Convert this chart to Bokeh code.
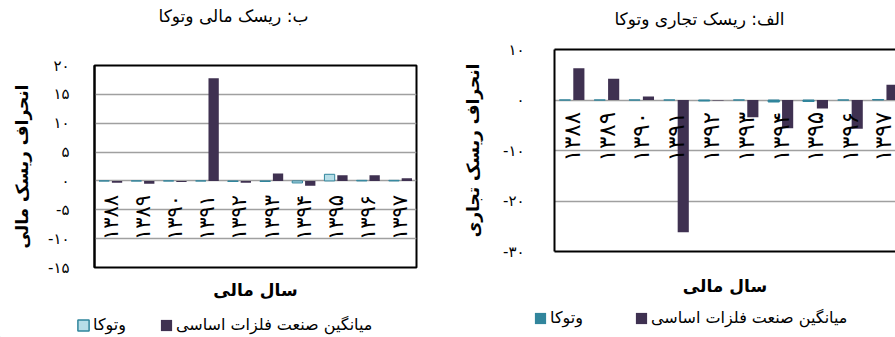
import numpy as np
from bokeh.plotting import figure
from bokeh.models import (ColumnDataSource, FixedTicker, LinearAxis, Legend,
                          LegendItem, Range1d, Label)
from bokeh.layouts import row, column
from bokeh.transform import dodge
from bokeh.embed import file_html
from bokeh.resources import INLINE

# ---------------- data ----------------
years = ["۱۳۸۸", "۱۳۸۹", "۱۳۹۰", "۱۳۹۱", "۱۳۹۲", "۱۳۹۳", "۱۳۹۴", "۱۳۹۵", "۱۳۹۶", "۱۳۹۷"]
series_names = ["وتوکا", "میانگین صنعت فلزات اساسی"]
titles = ["ب: ریسک مالی وتوکا", "الف: ریسک تجاری وتوکا"]

# panel ب: financial risk
fin_vetooka = [0.0, 0.0, 0.0, 0.0, -0.1, -0.1, -0.35, 1.15, 0.1, 0.1]
fin_industry = [-0.3, -0.5, -0.2, 17.8, -0.3, 1.3, -0.85, 1.0, 1.0, 0.45]
fin_ticks = [-15, -10, -5, 0, 5, 10, 15, 20]
fin_tick_labels = ["-۱۵", "-۱۰", "-۵", "۰", "۵", "۱۰", "۱۵", "۲۰"]

# panel الف: business risk
bus_vetooka = [0.0, 0.0, 0.0, 0.0, -0.2, 0.0, -0.4, -0.3, 0.0, 0.1]
bus_industry = [6.3, 4.2, 0.7, -26.2, -0.1, -3.4, -5.6, -1.7, -5.7, 3.0]
bus_ticks = [-30, -20, -10, 0, 10]
bus_tick_labels = ["-۳۰", "-۲۰", "-۱۰", "۰", "۱۰"]

FONT = "DejaVu Sans"
PURPLE = "#3F3151"
TEAL = "#31859C"
LIGHT = "#B7DEE8"
GRID = "#A0A0A0"
TOP_H = 33
LEG_H = 32
MAIN_H = 337 - TOP_H - LEG_H


def blank_axis(**kw):
    base = dict(ticker=FixedTicker(ticks=[]), axis_line_color=None,
                major_tick_line_color=None, minor_tick_line_color=None,
                major_label_standoff=0, major_label_text_font_size="0px")
    base.update(kw)
    return LinearAxis(**base)


def strip(height):
    f = figure(width=895, height=height, x_range=Range1d(0, 1),
               y_range=Range1d(0, 1), output_backend="svg",
               toolbar_location=None, x_axis_location=None,
               y_axis_location=None, title_location=None, min_border=0,
               outline_line_color=None)
    f.frame_align = False
    f.grid.visible = False
    return f


def panel(ylabel, vet, ind, ticks, tick_labels, yrange, xend, width,
          left, right, frame_top, frame_bottom, vet_fill, vet_line,
          year_standoff, year_font, xlab_standoff, ylab_standoff,
          tick_standoff, outline):
    idx = list(range(len(years)))
    src = ColumnDataSource(dict(idx=idx, vet=vet, ind=ind))
    p = figure(width=width, height=MAIN_H, x_range=Range1d(-0.5, xend),
               y_range=Range1d(*yrange), output_backend="svg",
               toolbar_location=None, x_axis_location=None,
               title_location=None,
               min_border_left=left, min_border_right=right,
               min_border_top=frame_top - TOP_H,
               min_border_bottom=MAIN_H - (frame_bottom - TOP_H),
               background_fill_color="white", border_fill_color="white")
    p.frame_align = False
    p.vbar(x=dodge("idx", -0.2), top="vet", width=0.32, source=src,
           fill_color=vet_fill, line_color=vet_line, line_width=1)
    p.vbar(x=dodge("idx", 0.2), top="ind", width=0.32, source=src,
           fill_color=PURPLE, line_color=None)

    p.xgrid.visible = False
    p.ygrid.grid_line_color = GRID
    p.ygrid.grid_line_width = 1.5

    ya = p.yaxis[0]
    ya.ticker = FixedTicker(ticks=ticks)
    ya.major_label_overrides = {t: l for t, l in zip(ticks, tick_labels)}
    ya.major_tick_line_color = None
    ya.minor_tick_line_color = None
    ya.axis_line_color = "black"
    ya.axis_line_width = 2
    ya.major_label_standoff = tick_standoff
    ya.major_label_text_font = FONT
    ya.major_label_text_font_size = "15px"
    ya.major_label_text_color = "black"
    ya.axis_label = ylabel
    ya.axis_label_text_font = FONT
    ya.axis_label_text_font_size = "17px"
    ya.axis_label_text_font_style = "bold"
    ya.axis_label_text_color = "black"
    ya.axis_label_standoff = ylab_standoff

    if outline:
        p.outline_line_color = "black"
        p.outline_line_width = 2
    else:
        p.outline_line_color = None
        p.add_layout(blank_axis(axis_line_color="black", axis_line_width=2),
                     "above")

    # year labels along the zero line
    xa = LinearAxis(ticker=FixedTicker(ticks=idx),
                    major_label_overrides={i: y for i, y in zip(idx, years)},
                    major_label_orientation=np.pi / 2, fixed_location=0,
                    axis_line_color=None, major_tick_line_color=None,
                    minor_tick_line_color=None,
                    major_label_standoff=year_standoff,
                    major_label_text_font=FONT,
                    major_label_text_font_size=year_font,
                    major_label_text_color="black")
    p.add_layout(xa, "below")

    # axis title "سال مالی" (its axis line is the bottom border)
    xl = blank_axis(axis_line_color=None if outline else "black",
                    axis_line_width=2,
                    axis_label="سال مالی", axis_label_text_font=FONT,
                    axis_label_text_font_size="17px",
                    axis_label_text_font_style="bold",
                    axis_label_text_color="black",
                    axis_label_standoff=xlab_standoff)
    p.add_layout(xl, "below")
    return p


p_fin = panel("انحراف ریسک مالی", fin_vetooka, fin_industry, fin_ticks,
              fin_tick_labels, (-15, 20), 9.5, 450, 94, 34, 65, 267,
              LIGHT, TEAL, 8, "21px", 12, 13, 19, True)
p_bus = panel("انحراف ریسک تجاری", bus_vetooka, bus_industry, bus_ticks,
              bus_tick_labels, (-30, 10), 9.3, 445, 104, 0, 49, 251,
              TEAL, TEAL, 6, "23px", 24, 17, 24, False)

# ---------------- title strip ----------------
tf = strip(TOP_H)
for text, cx, cy in zip(titles, (233, 699), (15, 18)):
    tf.add_layout(Label(x=cx, y=TOP_H - cy, x_units="screen", y_units="screen",
                        text=text, text_align="center",
                        text_baseline="middle", text_font=FONT,
                        text_font_size="17px", text_color="black"))

# ---------------- legend strip ----------------
lf = strip(LEG_H)
swatch = ColumnDataSource(dict(x=[-5.0], top=[0.0]))
g_light = lf.vbar(x="x", top="top", width=0.1, source=swatch,
                  fill_color=LIGHT, line_color=TEAL, line_width=1.5)
g_purple = lf.vbar(x="x", top="top", width=0.1, source=swatch,
                   fill_color=PURPLE, line_color=None)
g_teal = lf.vbar(x="x", top="top", width=0.1, source=swatch,
                 fill_color=TEAL, line_color=None)


def mk_legend(r_vet, x, y, spacing):
    return Legend(items=[LegendItem(label=series_names[0], renderers=[r_vet]),
                         LegendItem(label=series_names[1], renderers=[g_purple])],
                  orientation="horizontal", location=(x, y),
                  label_text_font=FONT, label_text_font_size="16px",
                  label_text_color="black",
                  glyph_width=14, glyph_height=14, label_standoff=3,
                  spacing=spacing, padding=0, margin=0,
                  border_line_color=None, background_fill_alpha=0)


lf.add_layout(mk_legend(g_light, 76, 3, 33), "center")
lf.add_layout(mk_legend(g_teal, 533, 10, 51), "center")

layout = column(tf, row(p_fin, p_bus, spacing=0), lf, spacing=0)
open("out.html", "w").write(file_html(layout, INLINE))
